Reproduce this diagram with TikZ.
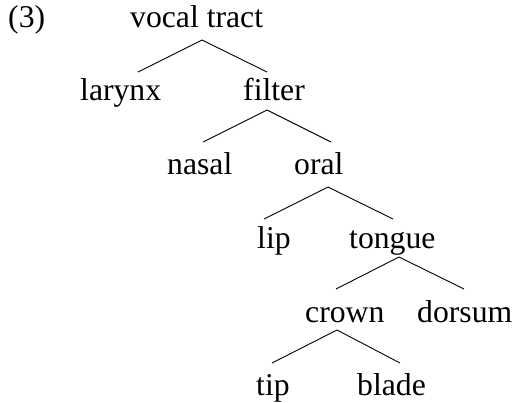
\documentclass[tikz,border=0pt]{standalone}
\usepackage{fontspec}
\setmainfont{Liberation Serif}
\begin{document}
\begin{tikzpicture}[x=1pt,y=-1pt,
  lbl/.style={anchor=base west,inner sep=0pt,font=\fontsize{31.7}{38}\selectfont},
  branch/.style={line width=0.9pt,black}]
\useasboundingbox (0,0) rectangle (514,402);
\node[lbl] (ex) at (8,27) {(3)};
\node[lbl] (vt) at (130,27) {vocal tract};
\node[lbl] (lar) at (80,100) {larynx};
\node[lbl] (fil) at (243,100) {filter};
\node[lbl] (nas) at (167,174) {nasal};
\node[lbl] (ora) at (294,174) {oral};
\node[lbl] (lip) at (257,248) {lip};
\node[lbl] (ton) at (349,248) {tongue};
\node[lbl] (cro) at (305,322) {crown};
\node[lbl] (dor) at (417,322) {dorsum};
\node[lbl] (tip) at (256,395) {tip};
\node[lbl] (bla) at (357,395) {blade};
% branch points
\coordinate (vt-t) at (202,40);
\coordinate (lar-t) at (138,72);
\coordinate (fil-t) at (267,72);
\coordinate (fil-b) at (267,110);
\coordinate (nas-t) at (203,142);
\coordinate (ora-t) at (331,142);
\coordinate (ora-b) at (328,187);
\coordinate (lip-t) at (264,219);
\coordinate (ton-t) at (393,219);
\coordinate (ton-b) at (399,257);
\coordinate (cro-t) at (336,289);
\coordinate (dor-t) at (464,289);
\coordinate (cro-b) at (337,330);
\coordinate (tip-t) at (272,363);
\coordinate (bla-t) at (400,363);
\draw[branch] (lar-t) -- (vt-t) -- (fil-t);
\draw[branch] (nas-t) -- (fil-b) -- (ora-t);
\draw[branch] (lip-t) -- (ora-b) -- (ton-t);
\draw[branch] (cro-t) -- (ton-b) -- (dor-t);
\draw[branch] (tip-t) -- (cro-b) -- (bla-t);
\end{tikzpicture}
\end{document}
